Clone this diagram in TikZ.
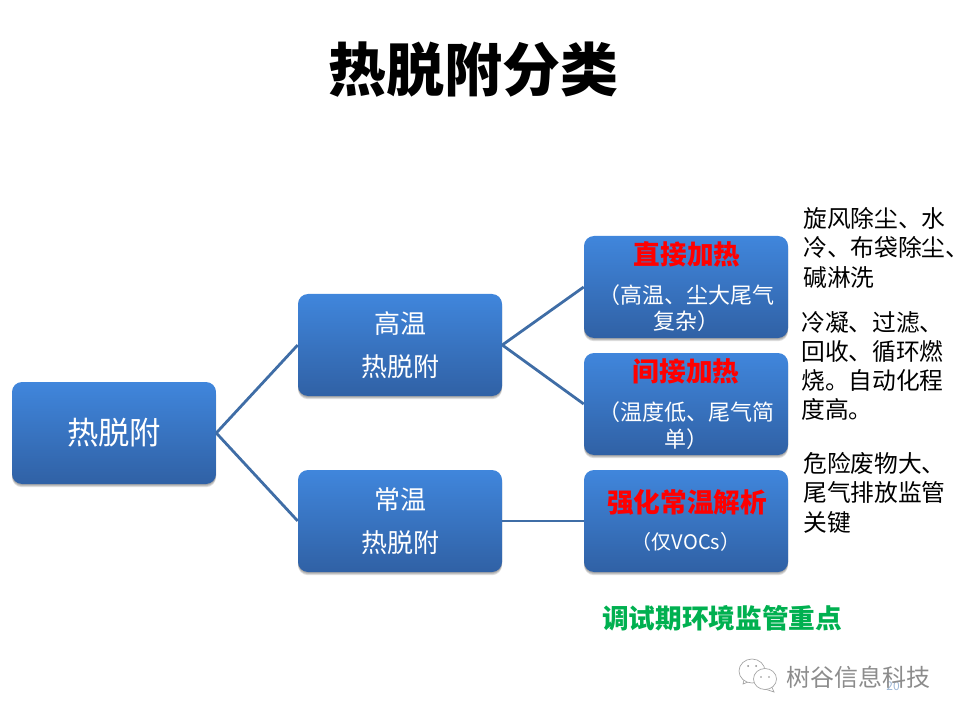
\documentclass[tikz,border=0pt]{standalone}
\usepackage{fontspec}
\setmainfont{Noto Sans CJK SC}
\usetikzlibrary{shadows}
\definecolor{boxtop}{HTML}{4086DC}
\definecolor{boxbot}{HTML}{3061A5}
\definecolor{linkc}{HTML}{3F6DA6}
\definecolor{wm}{HTML}{8C8C8C}
\definecolor{greent}{HTML}{00B050}
\definecolor{pgn}{HTML}{9DB7D6}
\tikzset{
  softshadow/.style={general shadow={shadow xshift=0pt,shadow yshift=#1,opacity=.13,fill=black}},
  bx/.style={rounded corners=7.5pt,top color=boxtop,bottom color=boxbot,
    minimum width=153pt,minimum height=76.5pt,inner sep=0pt,text=white,align=center,
    softshadow=-2.4pt,softshadow=-1.6pt,softshadow=-.8pt},
  link/.style={draw=linkc,line width=2.1pt},
  big/.style={font=\fontsize{23.5}{28}\selectfont},
  mid/.style={font=\fontsize{19.5}{32}\selectfont},
  redt/.style={text=red,font=\bfseries\fontsize{20}{24}\selectfont,inner sep=0pt},
  subt/.style={text=white,font=\fontsize{16.5}{20}\selectfont,align=center,inner sep=0pt},
  side/.style={anchor=north west,align=left,inner sep=0pt,font=\fontsize{17.8}{21.8}\selectfont},
  bubble/.style={draw=wm!80,line width=.5pt,fill=white}
}
\begin{document}
\begin{tikzpicture}[x=0.75pt,y=-0.75pt]
\useasboundingbox (0,0) rectangle (960,720);
\node[inner sep=0pt,font=\bfseries\fontsize{43.5}{50}\selectfont] (title) at (473,70) {热脱附分类};
\node[bx,big] (root) at (114,433) {热脱附};
\node[bx,mid] (hi) at (400,345) {高温\\热脱附};
\node[bx,mid] (lo) at (400,521) {常温\\热脱附};
\node[bx] (a) at (686,287) {};
\node[bx] (b) at (686,404) {};
\node[bx] (c) at (686,521) {};
\draw[link] (root.east) -- (hi.west);
\draw[link] (root.east) -- (lo.west);
\draw[link] (hi.east) -- (a.west);
\draw[link] (hi.east) -- (b.west);
\draw[link] (lo.east) -- (c.west);
\node[redt] (at) at (687,254) {直接加热};
\node[subt] (as) at (686,308) {（高温、尘大尾气\\复杂）};
\node[redt] (bt) at (686,371) {间接加热};
\node[subt] (bs) at (686,425.5) {（温度低、尾气简\\单）};
\node[redt] (ct) at (687,502) {强化常温解析};
\node[subt,font=\fontsize{15}{20}\selectfont] (cs) at (686,542) {（仅VOCs）};
\node[side] (na) at (803,207.5) {旋风除尘、水\\冷、布袋除尘\rlap{、}\\碱淋洗};
\node[side] (nb) at (801,311) {冷凝、过滤、\\回收、循环燃\\烧。自动化程\\度高。};
\node[side] (nc) at (803,452.5) {危险废物大、\\尾气排放监管\\关键};
\node[inner sep=0pt,text=greent,font=\bfseries\fontsize{20}{24}\selectfont] (g) at (722,618) {调试期环境监管重点};
% watermark
\draw[bubble] (747,668) -- (743,684) -- (753,680) -- cycle;
\draw[bubble] (752,671) ellipse (13 and 12);
\draw[bubble] (770,683) -- (774,692) -- (765,689) -- cycle;
\draw[bubble] (765,679) ellipse (11.5 and 10.5);
\fill[wm] (748,666) circle (1) (756,666) circle (1) (761,677) circle (.9) (769,677) circle (.9);
\node[inner sep=0pt,text=pgn,font=\fontsize{9}{10}\selectfont] (pg) at (893,686) {20};
\node[inner sep=0pt,text=wm,font=\fontsize{18}{20}\selectfont] (wmt) at (858,677) {树谷信息科技};
\end{tikzpicture}
\end{document}
